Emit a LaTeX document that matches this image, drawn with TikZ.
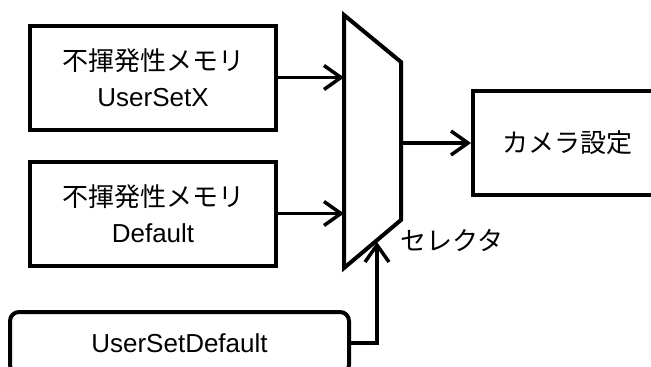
\documentclass[tikz,border=0pt]{standalone}
\usepackage{fontspec}
\setmainfont{Liberation Sans}
\newfontfamily\jpfont{Noto Sans CJK JP}
\usetikzlibrary{arrows.meta,positioning}

\begin{document}
\begin{tikzpicture}[x=1pt,y=-1pt,line width=4pt,
  >={Straight Barb[length=17pt,width=24pt]},
  blockbox/.style={draw,align=center,inner sep=0pt,
    font=\fontsize{26}{36}\selectfont},
  membox/.style={blockbox,minimum width=246pt,minimum height=104pt},
  link/.style={->,line width=3.5pt}]
  \useasboundingbox (0,0) rectangle (651,367);
  \clip (0,0) rectangle (651,367);
  % memories
  \node[membox] (ux) at (153,77.5) {{\jpfont 不揮発性メモリ}\\UserSetX};
  \node[membox] (df) at (153,213.5) {{\jpfont 不揮発性メモリ}\\Default};
  % selector
  \coordinate (mA) at (344,15);
  \coordinate (mB) at (401,62);
  \coordinate (mC) at (401,220);
  \coordinate (mD) at (344,268);
  \draw[line join=miter] (mA) -- (mB) -- (mC) -- (mD) -- cycle;
  \node[font=\jpfont\fontsize{26}{36}\selectfont] (sel) at (452,240) {セレクタ};
  % output
  \node[blockbox,minimum width=188pt,minimum height=104pt,
    font=\jpfont\fontsize{26}{36}\selectfont] (cam) at (567,143) {カメラ設定};
  % user set default
  \node[blockbox,rounded corners=9pt,minimum width=339pt,minimum height=62pt]
    (usd) at (179.5,343) {UserSetDefault};
  \coordinate (selin) at (377,242);
  % connectors
  \draw[link] (ux.east) -- (ux.east -| mA);
  \draw[link] (df.east) -- (df.east -| mA);
  \draw[link] (cam.west -| mB) -- (cam.west);
  \draw[link] (usd.east) -| (selin);
\end{tikzpicture}
\end{document}
